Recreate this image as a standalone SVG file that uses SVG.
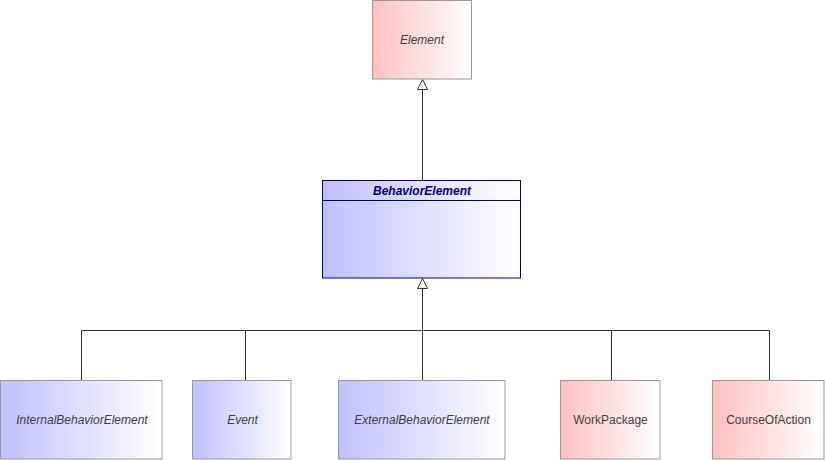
<svg xmlns="http://www.w3.org/2000/svg" width="825" height="460" viewBox="0 0 825 460">
<defs>
<linearGradient id="red" x1="0" y1="0" x2="1" y2="0"><stop offset="0" stop-color="#ffc0c0"/><stop offset="1" stop-color="#ffffff"/></linearGradient>
<linearGradient id="blue" x1="0" y1="0" x2="1" y2="0"><stop offset="0" stop-color="#c0c0ff"/><stop offset="1" stop-color="#ffffff"/></linearGradient>
<marker id="gen" viewBox="0 0 12 12" refX="11" refY="6" markerWidth="12" markerHeight="12" markerUnits="userSpaceOnUse" orient="auto">
<path d="M11,6 L1,1 L1,11 Z" fill="#ffffff" stroke="#3b3024" stroke-width="1"/>
</marker>
</defs>
<style>
.box{stroke:#999999;stroke-width:1}
.lbl{font-family:"Liberation Sans",Arial,sans-serif;font-size:12px;fill:#404040;text-anchor:middle}
.it{font-style:italic}
.conn{fill:none;stroke:#3b3024;stroke-width:1}
</style>
<g id="connectors">
<path class="conn" d="M422.5,180.5 V79.5" marker-end="url(#gen)"/>
<path class="conn" d="M422.5,380.5 V278.5" marker-end="url(#gen)"/>
<path class="conn" d="M81.5,380 V330.5 H769.5 V380"/>
<path class="conn" d="M245.5,380 V330.5"/>
<path class="conn" d="M611.5,380 V330.5"/>
</g>
<g id="Element">
<rect class="box" x="372.5" y="0.5" width="99" height="78.5" fill="url(#red)"/>
<text class="lbl it" x="422" y="44">Element</text>
</g>
<g id="BehaviorElement">
<rect x="322.5" y="180.5" width="198" height="97.5" fill="url(#blue)" stroke="#000080" stroke-width="1"/>
<line x1="322.5" y1="200.5" x2="520.5" y2="200.5" stroke="#000080" stroke-width="1"/>
<text x="422" y="194.5" font-family="Liberation Sans,Arial,sans-serif" font-size="12" font-weight="bold" font-style="italic" fill="#000080" text-anchor="middle">BehaviorElement</text>
</g>
<g id="InternalBehaviorElement">
<rect class="box" x="0.5" y="380.5" width="161.5" height="78.5" fill="url(#blue)"/>
<text class="lbl it" x="82" y="424">InternalBehaviorElement</text>
</g>
<g id="Event">
<rect class="box" x="192.5" y="380.5" width="98.5" height="78.5" fill="url(#blue)"/>
<text class="lbl it" x="242.5" y="424">Event</text>
</g>
<g id="ExternalBehaviorElement">
<rect class="box" x="338.5" y="380.5" width="166.5" height="78.5" fill="url(#blue)"/>
<text class="lbl it" x="422" y="424">ExternalBehaviorElement</text>
</g>
<g id="WorkPackage">
<rect class="box" x="560.5" y="380.5" width="99.5" height="78.5" fill="url(#red)"/>
<text class="lbl" x="610.5" y="424">WorkPackage</text>
</g>
<g id="CourseOfAction">
<rect class="box" x="712.5" y="380.5" width="111.5" height="78.5" fill="url(#red)"/>
<text class="lbl" x="768.5" y="424">CourseOfAction</text>
</g>
</svg>
